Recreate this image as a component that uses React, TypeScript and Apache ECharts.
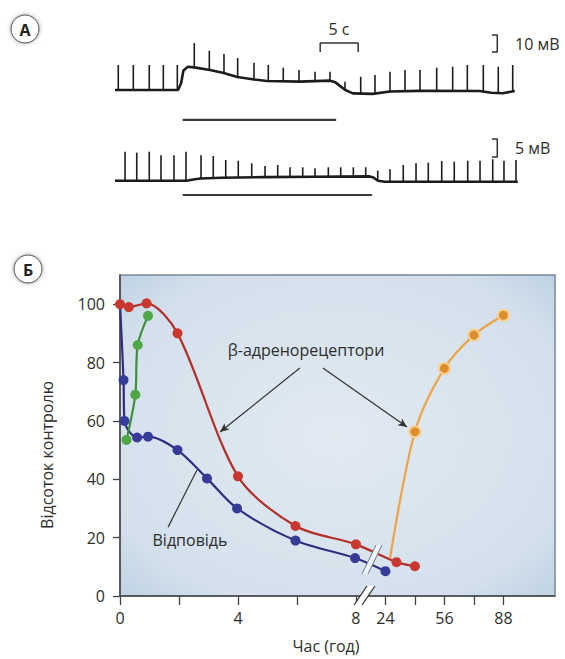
import React, { useEffect, useRef } from "react";
import * as echarts from "echarts";

// ================= Panel A (recordings) =================
// time in seconds, potential in mV relative to resting level
const trace1Baseline: [number, number][] = [
  [0, 0], [8.3, 0], [8.7, 4], [9.0, 11.5], [9.6, 13.7], [10.4, 13.3], [12.5, 11.8],
  [14.3, 10], [16.1, 7.6], [18.3, 6.2], [20, 5.3], [24.3, 4.9], [26.3, 5.2], [28.3, 5.5],
  [29.0, 4.5], [30.3, 0], [31.3, -2], [33.9, -2.3], [36.2, -0.9], [40, -0.5], [48, -0.6],
  [49.5, -1.6], [51, -1.9], [52.6, -0.6],
];
// [time, base, peak]
const trace1Spikes: [number, number, number][] = [
  [0.43, 0, 14.7], [2.41, 0, 14.7], [4.51, 0, 14.7], [6.36, 0, 14.7], [8.2, 0, 14.7],
  [10.43, 13.4, 27.6], [12.41, 12, 23.1], [14.34, 10, 21.2], [16.14, 7.6, 18.8],
  [18.29, 6.2, 16.1], [20.17, 5.3, 14.7], [22.14, 5, 13.1], [24.21, 4.9, 11.8],
  [26.32, 5.1, 10.8], [28.29, 5.4, 10.8], [30.26, 0, 4.9], [32.33, -2.2, 7.8],
  [34.21, -2.3, 8.8], [36.18, -0.9, 10.8], [38.16, -0.6, 11.8], [40.13, -0.5, 11.8],
  [42.33, -0.5, 13.1], [44.43, -0.5, 13.7], [46.36, -0.5, 14.7], [48.46, -0.6, 14.7],
  [50.43, -1.8, 13.7], [52.33, -0.8, 14.7],
];
const trace2Baseline: [number, number][] = [
  [0, 0], [9.4, 0], [10.5, 0.4], [11.3, 0.6], [14, 0.8], [19.7, 1.0], [26, 1.1],
  [33.5, 1.2], [34.0, 0.9], [34.6, 0], [35.5, -0.3], [53, -0.3],
];
const trace2Spikes: [number, number, number][] = [
  [1.32, 0, 8.06], [2.86, 0, 7.8], [4.51, 0, 8.06], [6.05, 0, 7.1], [7.76, 0, 7.1],
  [9.34, 0, 8.06], [11.32, 0.6, 7.1], [12.93, 0.8, 6.86], [14.57, 0.9, 5.75],
  [16.22, 1.0, 5.56], [17.99, 1.0, 4.83], [19.74, 1.0, 4.08], [21.41, 1.1, 4.36],
  [23.03, 1.1, 3.72], [24.7, 1.1, 3.72], [26.32, 1.2, 3.44], [28.07, 1.2, 3.72],
  [29.7, 1.2, 3.72], [31.36, 1.2, 3.72], [32.99, 1.2, 3.72], [34.57, 0, 2.78],
  [36.18, -0.3, 3.17], [37.93, -0.3, 4.36], [39.61, -0.3, 4.83], [41.22, -0.3, 5.0],
  [42.99, -0.3, 5.47], [44.64, -0.3, 5.28], [46.41, -0.3, 5.56], [48.03, -0.3, 5.56],
  [49.7, -0.3, 5.94], [51.18, -0.3, 5.56], [52.76, -0.3, 5.75],
];
const drugBar1: [number, number][] = [[8.9, -17.6], [29.1, -17.6]];
const drugBar2: [number, number][] = [[8.9, -3.97], [33.8, -3.97]];
const timeScaleBar: [number, number][] = [[27, 22.4], [27, 27.6], [32, 27.6], [32, 22.4]];
const voltScaleBar1: [number, number][] = [[49.6, 32.4], [50.3, 32.4], [50.3, 22.4], [49.6, 22.4]];
const voltScaleBar2: [number, number][] = [[49.6, 11.6], [50.3, 11.6], [50.3, 6.6], [49.6, 6.6]];

// ================= Panel B (time course) =================
const xTickHours = [0, 2, 4, 6, 8, 24, 40, 56, 72, 88];
const xLabelHours = [0, 4, 8, 24, 56, 88];
const yTicks = [0, 20, 40, 60, 80, 100];
// [hours, % of control]
const betaRed: [number, number][] = [
  [0, 100], [0.3, 99], [0.9, 100.3], [1.95, 90], [4, 41], [5.95, 24], [8, 17.7], [30, 11.6], [40, 10.2],
];
const responseBlue: [number, number][] = [
  [0, 100], [0.12, 74], [0.15, 60], [0.58, 54.3], [0.95, 54.6], [1.95, 50], [2.95, 40.3],
  [3.97, 30], [5.95, 19], [7.97, 13], [24, 8.5],
];
const recoveryGreen: [number, number][] = [[0.22, 53.5], [0.52, 69], [0.6, 86], [0.95, 96]];
const recoveryOrange: [number, number][] = [[26.5, 13], [40, 56.3], [56, 78], [72, 89.4], [88, 96.2]];
// annotation leader lines [hours, %]
const betaArrows: [number, number][][] = [
  [[6.1, 78.1], [3.39, 56.2]],
  [[6.88, 78.1], [35.7, 57.9]],
];
const responseLeader: [number, number][] = [[1.63, 23.6], [2.61, 43.2]];

// broken time axis: 0..8 h linear, then 16 h per unit from 24 h
const toAxis = (h: number) => (h <= 8 ? h : 9 + (h - 24) / 16);
const fromAxis = (v: number) => (v <= 8 ? v : 24 + (v - 9) * 16);
const mapPts = (arr: [number, number][]) => arr.map(([h, v]) => [toAxis(h), v]);

const FONT = "'Open Sans', 'Noto Sans', sans-serif";
const TXT = "#2e2e2e";

export default function App() {
  const ref = useRef<HTMLDivElement>(null);
  useEffect(() => {
    if (!ref.current) return;
    const chart = echarts.init(ref.current, undefined, { renderer: "svg" });

    const spikeSeries = (data: [number, number, number][], idx: number) => ({
      type: "custom",
      xAxisIndex: idx,
      yAxisIndex: idx,
      data,
      silent: true,
      encode: { x: 0, y: [1, 2] },
      renderItem: (_p: any, api: any) => {
        const a = api.coord([api.value(0), api.value(1)]);
        const b = api.coord([api.value(0), api.value(2)]);
        return {
          type: "line",
          shape: { x1: a[0], y1: a[1], x2: b[0], y2: b[1] },
          style: { stroke: "#1c1c1c", lineWidth: 1.6 },
        };
      },
    });
    const traceLine = (data: [number, number][], idx: number, width: number, color = "#1c1c1c") => ({
      type: "line",
      xAxisIndex: idx,
      yAxisIndex: idx,
      data,
      symbol: "none",
      silent: true,
      clip: false,
      lineStyle: { color, width },
    });

    const markerSeries = (
      name: string,
      data: [number, number][],
      lineColor: string,
      dotColor: string,
      extra: any = {}
    ) => ({
      name,
      type: "line",
      xAxisIndex: 0,
      yAxisIndex: 0,
      data: mapPts(data),
      smooth: 0.3,
      symbol: "circle",
      symbolSize: 10,
      lineStyle: { color: lineColor, width: 2.2 },
      itemStyle: { color: dotColor, borderColor: dotColor, borderWidth: 0 },
      ...extra,
    });

    const textEl = (text: string, x: number, y: number, size: number, align = "center", extra: any = {}) => ({
      type: "text",
      x,
      y,
      z: 120,
      ...extra,
      style: {
        text,
        x: 0,
        y: 0,
        align,
        textAlign: align,
        verticalAlign: "middle",
        textVerticalAlign: "middle",
        fontSize: size,
        fontFamily: FONT,
        fill: TXT,
      },
    });
    const circleLabel = (letter: string, x: number, y: number) => ({
      type: "group",
      x,
      y,
      z: 120,
      children: [
        {
          type: "circle",
          shape: { cx: 0, cy: 0, r: 14 },
          style: { fill: "#fff", stroke: "#555", lineWidth: 1, shadowBlur: 4, shadowColor: "rgba(0,0,0,0.35)" },
        },
        {
          type: "text",
          style: {
            text: letter, x: 0, y: 1, align: "center", textAlign: "center",
            verticalAlign: "middle", textVerticalAlign: "middle",
            fontSize: 16, fontWeight: "bold", fontFamily: FONT, fill: "#222",
          },
        },
      ],
    });

    const hiddenAxis = (min: number, max: number, gi: number) => ({
      type: "value", gridIndex: gi, min, max, show: false,
    });

    chart.setOption({
      animation: false,
      backgroundColor: "#ffffff",
      textStyle: { fontFamily: FONT },
      grid: [
        {
          left: 120, top: 275, right: 10, bottom: 63,
          show: true,
          backgroundColor: new echarts.graphic.RadialGradient(0.5, 0.5, 0.75, [
            { offset: 0, color: "#e2eaf2" },
            { offset: 0.75, color: "#d3e0ec" },
            { offset: 1, color: "#b9cde0" },
          ]),
          borderColor: "#7a8795",
          borderWidth: 1.5,
        },
        { left: 115, top: 22, width: 418, height: 110.5 },
        { left: 115, top: 126.7, width: 418, height: 72 },
      ],
      xAxis: [
        {
          type: "value", gridIndex: 0, min: 0, max: 14.75,
          axisLine: { show: true, onZero: false, lineStyle: { color: "#444", width: 1.5 } },
          axisTick: {
            show: true, length: 9, customValues: xTickHours.map(toAxis),
            lineStyle: { color: "#444", width: 1.3 },
          },
          axisLabel: {
            customValues: xLabelHours.map(toAxis),
            formatter: (v: number) => String(Math.round(fromAxis(v))),
            margin: 14, fontSize: 16, color: TXT, fontFamily: FONT,
          },
          splitLine: { show: false },
        },
        hiddenAxis(0, 55, 1),
        hiddenAxis(0, 55, 2),
      ],
      yAxis: [
        {
          type: "value", gridIndex: 0, min: 0, max: 110,
          axisLine: { show: true, onZero: false, lineStyle: { color: "#444", width: 1.5 } },
          axisTick: { show: true, length: 7, customValues: yTicks, lineStyle: { color: "#444", width: 1.3 } },
          axisLabel: { customValues: yTicks, margin: 15, fontSize: 16, color: TXT, fontFamily: FONT },
          splitLine: { show: false },
        },
        hiddenAxis(-25, 40, 1),
        hiddenAxis(-5, 15, 2),
      ],
      series: [
        // Panel A
        traceLine(trace1Baseline, 1, 2.6),
        spikeSeries(trace1Spikes, 1),
        traceLine(drugBar1, 1, 2.2, "#3a3a3a"),
        traceLine(timeScaleBar, 1, 1.5, "#333"),
        traceLine(voltScaleBar1, 1, 1.5, "#333"),
        traceLine(trace2Baseline, 2, 2.6),
        spikeSeries(trace2Spikes, 2),
        traceLine(drugBar2, 2, 2.2, "#3a3a3a"),
        traceLine(voltScaleBar2, 2, 1.5, "#333"),
        // Panel B
        markerSeries("Відповідь", responseBlue, "#2b2e82", "#373b98", {
          data: mapPts(responseBlue).map((p, i) => (i === 0 ? { value: p, symbol: "none" } : p)),
          markLine: {
            silent: true, symbol: ["none", "none"], animation: false,
            lineStyle: { color: "#333", width: 1.2, type: "solid" },
            label: { show: false },
            data: [[{ coord: mapPts(responseLeader)[0] }, { coord: mapPts(responseLeader)[1] }]],
          },
        }),
        markerSeries("β-адренорецептори", betaRed, "#b3302a", "#c8382e", {
          markLine: {
            silent: true, symbol: ["none", "arrow"], symbolSize: [6, 9], animation: false,
            lineStyle: { color: "#333", width: 1.2, type: "solid" },
            label: { show: false },
            data: betaArrows.map((seg) => {
              const m = mapPts(seg);
              return [{ coord: m[0] }, { coord: m[1] }];
            }),
          },
        }),
        markerSeries("recovery-1", recoveryGreen, "#3f8f3a", "#4fa845"),
        markerSeries("recovery-2", recoveryOrange, "#eca447", "#dc8d2d", {
          data: mapPts(recoveryOrange).map((p, i) => (i === 0 ? { value: p, symbol: "none" } : p)),
          itemStyle: { color: "#dc8d2d", borderColor: "#f7d18c", borderWidth: 2 },
          symbolSize: 11,
        }),
      ],
      graphic: [
        circleLabel("А", 25, 29),
        circleLabel("Б", 28, 269),
        textEl("5 с", 339, 29, 16),
        textEl("10 мВ", 515, 44, 16, "left"),
        textEl("5 мВ", 515, 148, 16, "left"),
        textEl("β-адренорецептори", 306, 350, 16),
        textEl("Відповідь", 190, 540, 16),
        textEl("Час (год)", 326, 646, 16),
        textEl("Відсоток контролю", 47, 455, 16, "center", { rotation: Math.PI / 2 }),
        // break marks across the curves
        {
          type: "polygon", z: 110,
          shape: { points: [[362, 574], [368, 574], [382, 545], [376, 545]] },
          style: { fill: "#eef3f7" },
        },
        { type: "line", z: 111, shape: { x1: 362, y1: 574, x2: 376, y2: 545 }, style: { stroke: "#6f7c88", lineWidth: 1 } },
        { type: "line", z: 111, shape: { x1: 368, y1: 574, x2: 382, y2: 545 }, style: { stroke: "#6f7c88", lineWidth: 1 } },
        // break marks on the time axis
        {
          type: "polygon", z: 110,
          shape: { points: [[354, 605], [362, 605], [375, 586], [367, 586]] },
          style: { fill: "#ffffff" },
        },
        { type: "line", z: 111, shape: { x1: 354, y1: 605, x2: 367, y2: 586 }, style: { stroke: "#333", lineWidth: 1.3 } },
        { type: "line", z: 111, shape: { x1: 362, y1: 605, x2: 375, y2: 586 }, style: { stroke: "#333", lineWidth: 1.3 } },
      ],
    });
    return () => chart.dispose();
  }, []);
  return (
    <div
      ref={ref}
      style={{ position: "fixed", left: 0, top: 0, width: 565, height: 659, background: "#fff" }}
    />
  );
}
